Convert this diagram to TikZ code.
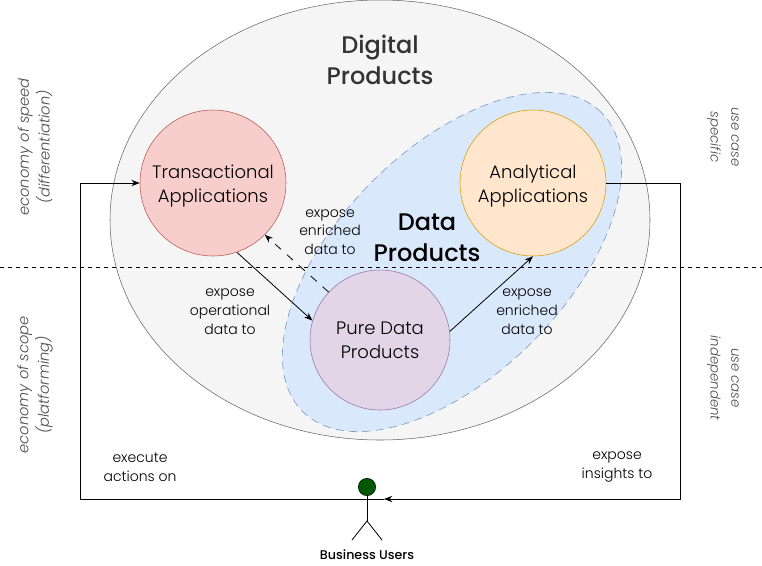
\documentclass[tikz,border=0pt]{standalone}
\usepackage{fontspec}
\setmainfont{Poppins Light}[BoldFont=Poppins Medium, ItalicFont=Poppins Light Italic]
\usetikzlibrary{arrows.meta,positioning,calc,shapes.geometric}
\definecolor{digifill}{HTML}{F5F5F5}
\definecolor{digiline}{HTML}{666666}
\definecolor{datafill}{HTML}{DAE8FC}
\definecolor{dataline}{HTML}{6C8EBF}
\definecolor{transfill}{HTML}{F8CECC}
\definecolor{transline}{HTML}{B85450}
\definecolor{anafill}{HTML}{FFE6CC}
\definecolor{analine}{HTML}{D79B00}
\definecolor{purefill}{HTML}{E1D5E7}
\definecolor{pureline}{HTML}{9673A6}
\definecolor{headfill}{HTML}{005700}

\begin{document}
\begin{tikzpicture}[
  x=0.75pt, y=-0.75pt,
  font=\fontsize{10.5}{14}\selectfont,
  appcircle/.style={draw, circle, minimum size=109.5pt, inner sep=0pt, align=center,
    font=\fontsize{13.5}{18}\selectfont},
  zone/.style={align=center, font=\fontsize{18}{23}\selectfont\bfseries},
  clab/.style={align=center},
  sidelab/.style={align=center, text=black!70, font=\fontsize{11}{15.5}\selectfont\itshape},
  flow/.style={-{Stealth[length=2.2mm]}, semithick},
  stick/.style={semithick, line cap=round}
]
\useasboundingbox (0,0) rectangle (762,565);

\node[draw=digiline, fill=digifill, ellipse, minimum width=405pt, minimum height=330pt,
  inner sep=0pt] (DP) at (380,220) {};
\node[draw=dataline, dash pattern=on 6pt off 4pt, fill=datafill, ellipse, rotate=45,
  minimum width=317pt, minimum height=170pt, inner sep=0pt] (DA) at (452,262) {};

\node[zone, text=black!80] (dptitle) at (380,60) {Digital\\Products};
\node[zone] (datitle) at (427,238) {Data\\Products};

\node[appcircle, fill=transfill, draw=transline] (T) at (213,183) {\rule{0pt}{15pt}Transactional\\Applications};
\node[appcircle, fill=anafill, draw=analine] (A) at (533,183) {\rule{0pt}{15pt}Analytical\\Applications};
\node[appcircle, minimum size=105pt, fill=purefill, draw=pureline] (P) at (380,340) {Pure Data\\Products};

\draw[dashed] (0,267) -- (762,267);

% actor
\node[draw=black, fill=headfill, circle, minimum size=13pt, inner sep=0pt] (head) at (367,487) {};
\coordinate (hip) at (367,521);
\coordinate (armL) at (352,499);
\coordinate (armR) at (384,499);
\draw[stick] (head.south) -- (hip);
\draw[stick] (armL) -- (armR);
\coordinate (footL) at (352,540);
\coordinate (footR) at (382,540);
\draw[stick] (footL) -- (hip) -- (footR);
\node[font=\fontsize{9.5}{10}\selectfont\bfseries] (user) at (367,555) {Business Users};

\draw[flow] (T.-71) -- (P.164);
\draw[flow, dash pattern=on 6pt off 6pt] (P.137) -- (T.-45);
\draw[flow] (P.7) -- (A.south);
\draw[flow] (armL) -| (80,183) -- (T.west);
\draw[flow] (A.east) -| (680,499) -- (armR);

\node[clab] (l1) at (230,311.5) {expose\\operational\\data to};
\node[clab] (l2) at (330,232) {expose\\enriched\\data to};
\node[clab] (l3) at (527,311.5) {expose\\enriched\\data to};
\node[clab] (l4) at (140,467) {execute\\actions on};
\node[clab] (l5) at (617,467) {expose\\insights to};

\node[sidelab, rotate=90] (s1) at (35,147) {economy of speed\\(differentiation)};
\node[sidelab, rotate=90] (s2) at (35,385) {economy of scope\\(platforming)};
\node[sidelab, rotate=-90, font=\fontsize{10}{15.5}\selectfont\itshape] (s3) at (723,137) {use case\\specific};
\node[sidelab, rotate=-90, font=\fontsize{10}{15.5}\selectfont\itshape] (s4) at (723,378) {use case\\independent};
\end{tikzpicture}
\end{document}
